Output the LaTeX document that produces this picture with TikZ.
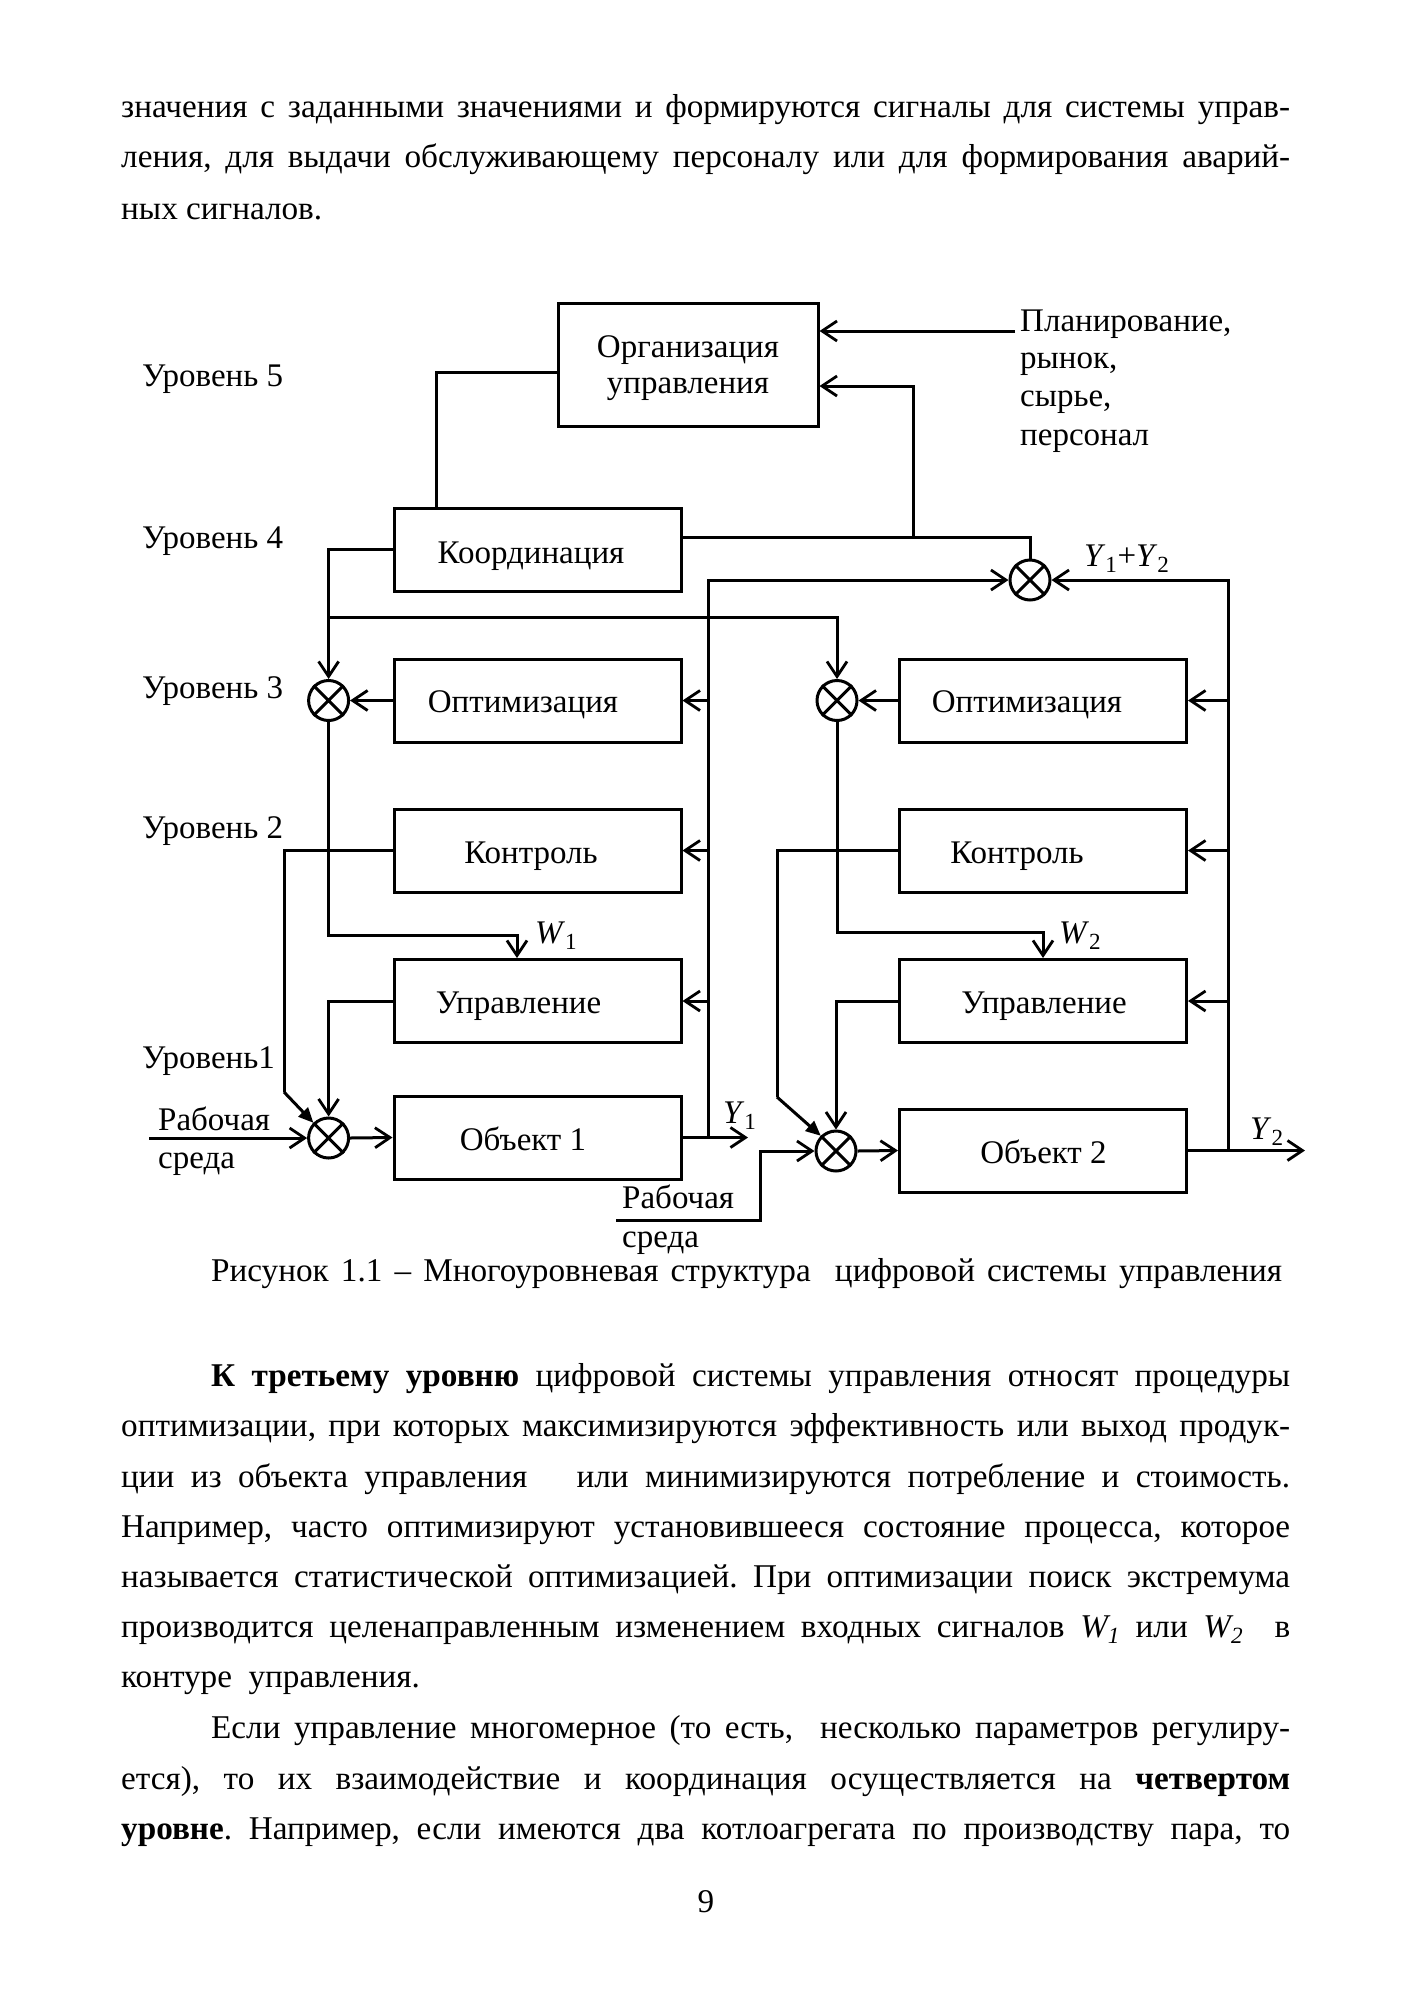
\documentclass[tikz,border=0pt]{standalone}
\usepackage{fontspec}
\setmainfont{Liberation Serif}
\usetikzlibrary{arrows.meta}
\newcommand\tfont{\fontsize{33.2}{50}\selectfont}
\newcommand\dfont{\fontsize{33}{36}\selectfont}
\newcommand\fullline[1]{\makebox[1169pt][s]{#1}}
\newcommand\indline[1]{\makebox[1079pt][s]{#1}}
\newcommand\sumnode[2]{\node[sumc] (#1) at (#2) {};
  \draw[ln] (#1.45) -- (#1.225) (#1.135) -- (#1.315);}
\frenchspacing
\begin{document}
\begin{tikzpicture}[x=1pt,y=-1pt,
  txt/.style={inner sep=0pt, font=\tfont},
  lab/.style={inner sep=0pt, font=\dfont},
  blk/.style={draw, line width=3pt, minimum width=287pt, minimum height=83pt, inner sep=0pt},
  ln/.style={line width=3pt},
  arr/.style={ln, -{Straight Barb[length=15pt,width=20pt,line width=2.8pt]}},
  farr/.style={ln, -{Triangle[length=15pt,width=13pt]}},
  sumc/.style={circle, draw, line width=3pt, minimum size=40pt, inner sep=0pt},
]
\fill[white] (0,0) rectangle (1410,2000);
\useasboundingbox (0,0) rectangle (1410,2000);

% ---- body text, top
\node[txt, anchor=base west] (p1) at (121,117) {\fullline{значения  с заданными значениями и формируются сигналы для системы управ-}};
\node[txt, anchor=base west] (p2) at (121,167) {\fullline{ления,  для выдачи обслуживающему персоналу или  для формирования аварий-}};
\node[txt, anchor=base west] (p3) at (121,219) {ных сигналов.};

% ---- level labels
\node[lab, anchor=base west] (l5) at (142,386) {Уровень 5};
\node[lab, anchor=base west] (l4) at (142,548) {Уровень 4};
\node[lab, anchor=base west] (l3) at (142,698) {Уровень 3};
\node[lab, anchor=base west] (l2) at (142,838) {Уровень 2};
\node[lab, anchor=base west] (l1) at (142,1068) {Уровень1};

% ---- blocks
\node[blk, minimum width=260pt, minimum height=123pt, align=center, font=\dfont, text depth=0pt] (org) at (688,364.5) {Организация\\управления};
\node[blk] (koord) at (537.5,549.5) {};
\node[blk] (opt1) at (537.5,700.5) {};
\node[blk] (kon1) at (537.5,850.5) {};
\node[blk] (upr1) at (537.5,1001) {};
\node[blk] (obj1) at (537.5,1137.5) {};
\node[blk] (opt2) at (1043,700.5) {};
\node[blk] (kon2) at (1043,850.5) {};
\node[blk] (upr2) at (1043,1001) {};
\node[blk] (obj2) at (1043,1150.5) {};

\node[lab, anchor=base] (koordt) at (531,563) {Координация};
\node[lab, anchor=base] (opt1t) at (523,712) {Оптимизация};
\node[lab, anchor=base] (kon1t) at (531,863) {Контроль};
\node[lab, anchor=base] (upr1t) at (518.5,1013) {Управление};
\node[lab, anchor=base] (obj1t) at (523,1150) {Объект 1};
\node[lab, anchor=base] (opt2t) at (1027,712) {Оптимизация};
\node[lab, anchor=base] (kon2t) at (1017,863) {Контроль};
\node[lab, anchor=base] (upr2t) at (1044,1013) {Управление};
\node[lab, anchor=base] (obj2t) at (1043.5,1163) {Объект 2};

% ---- summing junctions
\sumnode{s4}{1030,580}
\sumnode{s3a}{328.6,700.5}
\sumnode{s3b}{837,700.5}
\sumnode{s1a}{328.6,1138}
\sumnode{s1b}{836,1151}

% ---- external texts
\node[lab, anchor=base west] (plan1) at (1020,331) {Планирование,};
\node[lab, anchor=base west] (plan2) at (1020,368) {рынок,};
\node[lab, anchor=base west] (plan3) at (1020,406) {сырье,};
\node[lab, anchor=base west] (plan4) at (1020,445) {персонал};
\node[lab, anchor=base west] (env1a) at (158,1130) {Рабочая};
\node[lab, anchor=base west] (env1b) at (158,1168) {среда};
\node[lab, anchor=base west] (env2a) at (622,1208) {Рабочая};
\node[lab, anchor=base west] (env2b) at (622,1247) {среда};

\node[lab, anchor=base west] (y12) at (1084,566) {\textit{Y}\textsubscript{1}+\textit{Y}\textsubscript{2}};
\node[lab, anchor=base west] (w1) at (535,943) {\textit{W}\textsubscript{1}};
\node[lab, anchor=base west] (w2) at (1059,943) {\textit{W}\textsubscript{2}};
\node[lab, anchor=base west] (y1) at (723,1123) {\textit{Y}\textsubscript{1}};
\node[lab, anchor=base west] (y2) at (1250,1139) {\textit{Y}\textsubscript{2}};

% ---- coordinates
\coordinate (pin) at (1015,331);
\coordinate (j1) at (913,537);
\coordinate (j2) at (328.6,617);
\coordinate (y1b) at (708,1137.5);
\coordinate (y2b) at (1228,1150.5);
\coordinate (out1) at (748,1137.5);
\coordinate (out2) at (1305,1150.5);
\coordinate (in1) at (149,1138);
\coordinate (in2) at (616,1220);
\coordinate (k1) at (284,1092);
\coordinate (k2) at (777,1097);

% ---- connectors
\draw[ln] (koord.north -| 436,0) |- (org.west |- 0,372);
\draw[arr] (pin) -- (org.east |- pin);
\draw[ln] (s4.north) |- (j1) -- (koord.east |- j1);
\draw[arr] (j1) |- (org.east |- 0,386);

\draw[arr] (y1b) |- (s4.west);
\draw[arr] (opt1.east -| y1b) -- (opt1.east);
\draw[arr] (kon1.east -| y1b) -- (kon1.east);
\draw[arr] (upr1.east -| y1b) -- (upr1.east);

\draw[arr] (y2b) |- (s4.east);
\draw[arr] (opt2.east -| y2b) -- (opt2.east);
\draw[arr] (kon2.east -| y2b) -- (kon2.east);
\draw[arr] (upr2.east -| y2b) -- (upr2.east);

\draw[arr] (koord.west) -| (s3a.north);
\draw[arr] (j2) -| (s3b.north);
\draw[arr] (opt1.west) -- (s3a.east);
\draw[arr] (opt2.west) -- (s3b.east);

\draw[arr] (s3a.south) |- (517,935) -- (517,0 |- upr1.north);
\draw[arr] (s3b.south) |- (upr2.north |- 0,932) -- (upr2.north);

\draw[ln] (kon1.west) -| (k1);
\draw[farr] (k1) -- (s1a.135);
\draw[ln] (kon2.west) -| (k2);
\draw[farr] (k2) -- (s1b.135);

\draw[arr] (upr1.west) -| (s1a.north);
\draw[arr] (upr2.west) -| (s1b.north);

\draw[arr] (in1) -- (s1a.west);
\draw[arr] (s1a.east) -- (obj1.west);
\draw[arr] (obj1.east) -- (out1);
\draw[arr] (in2) -| (760,1151) -- (s1b.west);
\draw[arr] (s1b.east) -- (obj2.west);
\draw[arr] (obj2.east) -- (out2);

% ---- caption
\node[txt, anchor=base west] (cap) at (211,1281) {\makebox[1071pt][s]{Рисунок 1.1 – Многоуровневая структура \ цифровой системы управления}};

% ---- body text, bottom
\node[txt, anchor=base west] (q1) at (211,1386) {\indline{\textbf{К третьему уровню} цифровой системы управления относят процедуры}};
\node[txt, anchor=base west] (q2) at (121,1436) {\fullline{оптимизации, при которых  максимизируются эффективность или выход продук-}};
\node[txt, anchor=base west] (q3) at (121,1487) {\fullline{ции из объекта управления \ \ или минимизируются потребление и стоимость.}};
\node[txt, anchor=base west] (q4) at (121,1537) {\fullline{Например, часто оптимизируют установившееся состояние процесса, которое}};
\node[txt, anchor=base west] (q5) at (121,1587) {\fullline{называется статистической оптимизацией. При оптимизации поиск экстремума}};
\node[txt, anchor=base west] (q6) at (121,1637) {\fullline{производится целенаправленным изменением входных сигналов \textit{W\textsubscript{1}} или \textit{W\textsubscript{2}} \ в}};
\node[txt, anchor=base west] (q7) at (121,1687) {контуре \ управления.};
\node[txt, anchor=base west] (q8) at (211,1738) {\indline{Если управление многомерное (то есть, \ несколько параметров регулиру-}};
\node[txt, anchor=base west] (q9) at (121,1789) {\fullline{ется), то их взаимодействие и координация осуществляется на \textbf{четвертом}}};
\node[txt, anchor=base west] (q10) at (121,1839) {\fullline{\textbf{уровне}. Например, если имеются два котлоагрегата по производству пара, то}};
\node[txt, anchor=base] (pg) at (706,1912) {9};
\end{tikzpicture}
\end{document}
